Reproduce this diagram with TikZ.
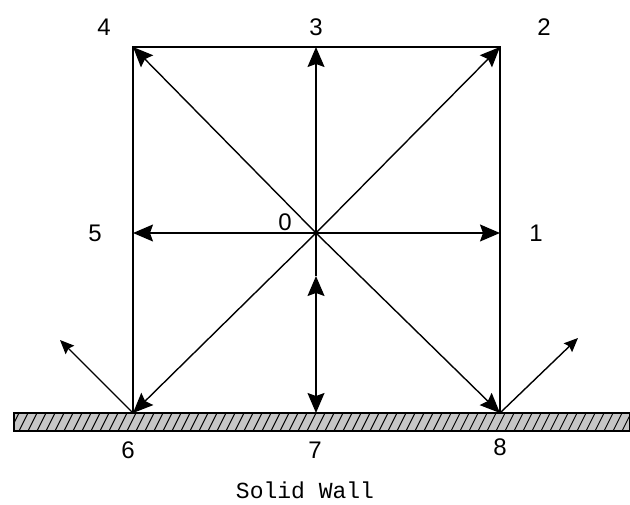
\documentclass[tikz,border=0pt]{standalone}
\usepackage{fontspec}
\setmainfont{Liberation Sans}
\newfontfamily\wallfont{Liberation Mono}
\usetikzlibrary{arrows.meta}
\begin{document}
\begin{tikzpicture}[x=1pt,y=-1pt,line width=1.4pt,
  vec/.style={-{Stealth[length=20pt,width=17pt,inset=3pt]}},
  twovec/.style={{Stealth[length=20pt,width=17pt,inset=3pt]}-{Stealth[length=20pt,width=17pt,inset=3pt]}},
  outvec/.style={-{Stealth[length=14pt,width=12pt,inset=2pt]}},
  lbl/.style={font=\fontsize{24}{28}\selectfont},
  walltxt/.style={font=\wallfont\fontsize{23}{26}\selectfont}]
 \useasboundingbox (0,0) rectangle (630,505);
 %% lattice points
 \coordinate (o) at (316,233);
 \foreach \n/\x/\y in {1/500/233,2/500/47,3/316/47,4/133/47,5/133/233,6/133/413,7/316/413,8/500/413}
   {\coordinate (p\n) at (\x,\y);}
 \coordinate (m) at (316,276);
 \coordinate (r6) at (60,340);
 \coordinate (r8) at (578,338);
 %% solid wall
 \begin{scope}
  \clip (14,413) rectangle (630,431);
  \fill[gray!45] (14,413) rectangle (630,431);
  \foreach \i in {0,...,70}{\draw[line width=.9pt] (10+9*\i,431) -- ++(9,-18);}
 \end{scope}
 \draw[line width=1.1pt] (14,413) rectangle (630,431);
 %% box
 \draw (p6) -- (p4) -- (p2) -- (p8);
 %% velocities
 \foreach \n in {1,2,3,4,5,6,8}{\draw[vec] (o) -- (p\n);}
 \draw (o) -- (m);
 \draw[twovec] (m) -- (p7);
 \fill (o) circle (1.8pt);
 \draw[outvec] (p6) -- (r6);
 \draw[outvec] (p8) -- (r8);
 %% labels
 \node[lbl] (l0) at (285,222) {0};
 \node[lbl] (l1) at (536,233) {1};
 \node[lbl] (l2) at (544,27) {2};
 \node[lbl] (l3) at (316,27) {3};
 \node[lbl] (l4) at (104,27) {4};
 \node[lbl] (l5) at (95,233) {5};
 \node[lbl] (l6) at (128,450) {6};
 \node[lbl] (l7) at (315,450) {7};
 \node[lbl] (l8) at (500,447) {8};
 \node[walltxt] (wall) at (305,490) {Solid Wall};
\end{tikzpicture}
\end{document}
